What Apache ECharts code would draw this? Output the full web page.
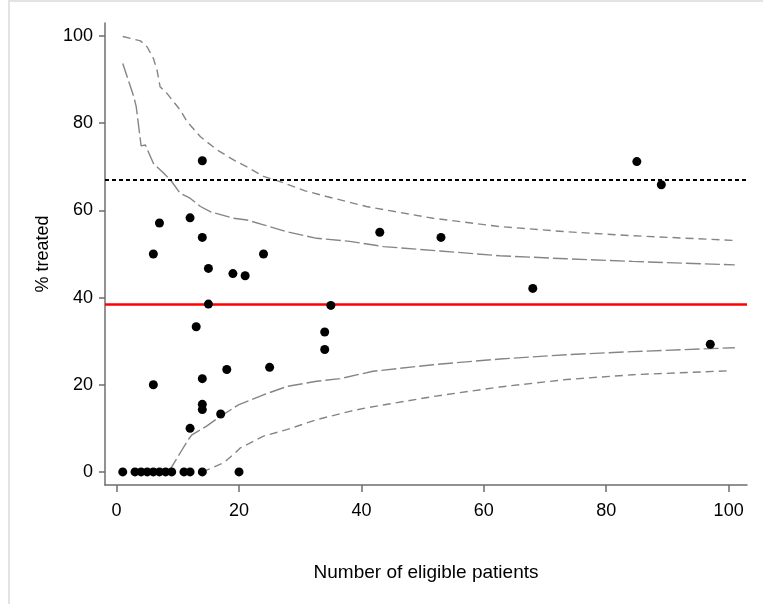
<!DOCTYPE html>
<html>
<head>
<meta charset="utf-8">
<script src="https://cdn.jsdelivr.net/npm/echarts@6/dist/echarts.min.js"></script>
<style>
html,body{margin:0;padding:0;background:#fff;}
#c{width:763px;height:604px;}
</style>
</head>
<body>
<div id="c"></div>
<script>
// ---- data ----
var xTicks = [0, 20, 40, 60, 80, 100];
var yTicks = [0, 20, 40, 60, 80, 100];

var pointsX = [1, 3, 4, 5, 6, 7, 8, 9, 11, 12, 14, 20,
  6, 7, 12, 14, 15, 19, 21, 24, 15, 35, 13, 34, 34,
  6, 14, 18, 25, 14, 14, 17, 12, 14,
  85, 89, 43, 53, 68, 97];
var pointsY = [0, 0, 0, 0, 0, 0, 0, 0, 0, 0, 0, 0,
  50, 57.1, 58.3, 53.8, 46.7, 45.5, 45, 50, 38.5, 38.2, 33.3, 32.1, 28.1,
  20, 21.4, 23.5, 24, 15.5, 14.3, 13.3, 10, 71.4,
  71.2, 65.9, 55, 53.8, 42.1, 29.3];

var upperOuterX = [1, 3.9, 5, 6, 6.6, 7.1, 8.2, 10.4, 11.5, 13.7, 16.4, 19.1, 21.3, 24, 26.7, 30.8, 34.3, 40.8, 51.7, 62.6, 73.5, 84.3, 101];
var upperOuterY = [99.9, 98.9, 97.5, 94.9, 92.2, 88.4, 86.9, 83, 80.4, 76.9, 73.9, 71.6, 70, 67.8, 66.6, 64.5, 63.2, 60.9, 58.2, 56.3, 55.1, 54.2, 53.1];

var upperInnerX = [1, 2.8, 3.2, 4, 4.7, 6, 7.7, 8.8, 10.4, 12, 13.7, 15.3, 19.1, 21.3, 24, 27.8, 32.7, 38.1, 43.6, 52.8, 62.6, 73.5, 84.3, 101];
var upperInnerY = [93.7, 86.1, 83.8, 74.8, 75, 70.8, 68.5, 67, 63.9, 62.8, 60.9, 59.7, 58.2, 57.8, 56.7, 55.1, 53.6, 52.9, 51.7, 50.7, 49.6, 48.9, 48.3, 47.5];

var lowerInnerX = [8.5, 10.4, 11.7, 12.3, 14.7, 16.9, 19.9, 24, 27.8, 32.7, 36.5, 41.9, 51.7, 62.6, 73.5, 84.3, 101];
var lowerInnerY = [0, 4.4, 7.4, 8.5, 10.5, 12.7, 15.4, 17.7, 19.6, 20.8, 21.4, 23.1, 24.6, 25.9, 26.9, 27.6, 28.5];

var lowerOuterX = [14, 17.5, 19.4, 20.2, 24, 27.8, 32.7, 38.1, 40.8, 51.7, 62.6, 73.5, 84.3, 100];
var lowerOuterY = [0, 2.1, 4.4, 5.5, 8.2, 9.7, 12, 13.9, 14.7, 17.3, 19.5, 21.2, 22.3, 23.2];

var overallRate = 38.4;
var targetRate = 67;

var xName = 'Number of eligible patients';
var yName = '% treated';

// ---- build ----
function zip(a, b) { return a.map(function (v, i) { return [v, b[i]]; }); }

var curveColor = '#858585';
function curve(xs, ys, dash) {
  return {
    type: 'line', data: zip(xs, ys), symbol: 'none', silent: true, z: 2,
    lineStyle: { color: curveColor, width: 1.4, type: dash }
  };
}

var chart = echarts.init(document.getElementById('c'), null, { renderer: 'canvas' });
var font = '"Liberation Sans", Arial, sans-serif';
var axisColor = '#6e6e6e';

chart.setOption({
  animation: false,
  backgroundColor: '#fff',
  graphic: [
    { type: 'line', shape: { x1: 9, y1: 0, x2: 9, y2: 604 }, style: { stroke: '#e3e3e3', lineWidth: 2 } },
    { type: 'line', shape: { x1: 9, y1: 1, x2: 763, y2: 1 }, style: { stroke: '#e3e3e3', lineWidth: 2 } }
  ],
  grid: { left: 105, right: 16, top: 23, bottom: 119 },
  xAxis: {
    type: 'value', min: -1.9, max: 103,
    splitLine: { show: false },
    axisLine: { show: true, onZero: false, lineStyle: { color: axisColor, width: 1.5 } },
    axisTick: { show: true, length: 7, lineStyle: { color: axisColor, width: 1.5 }, customValues: xTicks },
    axisLabel: { color: '#000', fontSize: 18, fontFamily: font, margin: 17, customValues: xTicks },
    name: xName, nameLocation: 'middle', nameGap: 78,
    nameTextStyle: { color: '#000', fontSize: 19, fontFamily: font }
  },
  yAxis: {
    type: 'value', min: -3, max: 103,
    splitLine: { show: false },
    axisLine: { show: true, onZero: false, lineStyle: { color: axisColor, width: 1.5 } },
    axisTick: { show: true, length: 6, lineStyle: { color: axisColor, width: 1.5 }, customValues: yTicks },
    axisLabel: { color: '#000', fontSize: 18, fontFamily: font, margin: 12, customValues: yTicks },
    name: yName, nameLocation: 'middle', nameGap: 52, nameRotate: 90,
    nameTextStyle: { color: '#000', fontSize: 18, fontFamily: font }
  },
  series: [
    curve(upperOuterX, upperOuterY, [8, 5]),
    curve(upperInnerX, upperInnerY, [15, 4]),
    curve(lowerInnerX, lowerInnerY, [15, 4]),
    curve(lowerOuterX, lowerOuterY, [8, 5]),
    {
      type: 'scatter', data: zip(pointsX, pointsY), symbol: 'circle', symbolSize: 9, z: 5,
      itemStyle: { color: '#000', opacity: 1 },
      markLine: {
        silent: true, symbol: 'none', label: { show: false },
        data: [
          { yAxis: overallRate, lineStyle: { color: '#ff0000', width: 2.5, type: 'solid', opacity: 1 } },
          { yAxis: targetRate, lineStyle: { color: '#000', width: 2.2, type: [4, 3], opacity: 1 } }
        ]
      }
    }
  ]
});
</script>
</body>
</html>
